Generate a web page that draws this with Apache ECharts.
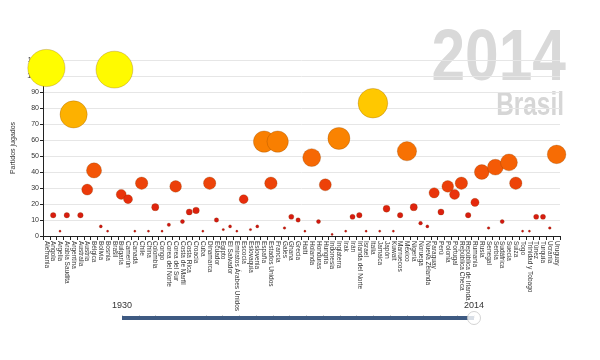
<!DOCTYPE html>
<html>
<head>
<meta charset="utf-8">
<script src="https://cdn.jsdelivr.net/npm/echarts@6/dist/echarts.min.js"></script>
<style>html,body{margin:0;padding:0;background:#fff}#c{width:600px;height:360px}</style>
</head>
<body>
<div id="c"></div>
<script>
const categories = ["Alemania","Angola","Argelia","Arabia Saudita","Argentina","Australia","Austria","Bélgica","Bolivia","Bosnia","Brasil","Bulgaria","Camerún","Canadá","Chile","China","Colombia","Congo","Corea del Norte","Corea del Sur","Costa de Marfil","Costa Rica","Croacia","Cuba","Dinamarca","Ecuador","Egipto","El Salvador","Emiratos Árabes Unidos","Escocia","Eslovaquia","Eslovenia","España","Estados Unidos","Francia","Gales","Ghana","Grecia","Haití","Holanda","Honduras","Hungría","Indonesia","Inglaterra","Irak","Irán","Irlanda del Norte","Israel","Italia","Jamaica","Japón","Kuwait","Marruecos","México","Nigeria","Noruega","Nueva Zelanda","Paraguay","Perú","Polonia","Portugal","República Checa","República de Irlanda","Rumania","Rusia","Senegal","Serbia","Sudáfrica","Suecia","Suiza","Togo","Trinidad y Tobago","Túnez","Turquía","Ucrania","Uruguay"];
const partidos = [105,13,3,13,76,13,29,41,6,3,104,26,23,3,33,3,18,3,7,31,9,15,16,3,33,10,4,6,3,23,4,6,59,33,59,5,12,10,3,49,9,32,1,61,3,12,13,3,83,3,17,3,13,53,18,8,6,27,15,31,26,33,13,21,40,5,43,9,46,33,3,3,12,12,5,51];
const yTicks = [0,10,20,30,40,50,60,70,80,90,100,110];
const years = [1930,1934,1938,1950,1954,1958,1962,1966,1970,1974,1978,1982,1986,1990,1994,1998,2002,2006,2010,2014];
const anioActual = 2014;
const paisSede = "Brasil";
const yName = "Partidos jugados";

const chart = echarts.init(document.getElementById('c'), null, {renderer: 'canvas'});
const font = 'Liberation Sans, Arial, sans-serif';
chart.setOption({
  animation: false,
  textStyle: {fontFamily: font},
  graphic: [
    {type: 'text', x: 566, y: 60, scaleX: 0.84, z: -10, silent: true,
     style: {text: String(anioActual), fontFamily: 'Liberation Sans', fontWeight: 'bold', fontSize: 72,
             fill: '#d9d9d9', align: 'right', verticalAlign: 'middle'}},
    {type: 'text', x: 564, y: 106, scaleX: 0.74, z: -10, silent: true,
     style: {text: paisSede, fontFamily: 'Liberation Sans', fontWeight: 'bold', fontSize: 33,
             fill: '#d6d6d6', align: 'right', verticalAlign: 'middle'}}
  ],
  visualMap: {
    show: false, type: 'continuous', seriesIndex: 0, dimension: 1,
    min: 1, max: 106,
    inRange: {color: ['#c80a14', '#e62a0c', '#f45a06', '#fb8a00', '#ffcf00', '#ffff00']}
  },
  grid: [
    {left: 43, right: 40, top: 60, bottom: 124},
    {left: 122, right: 126, top: 316, height: 4}
  ],
  xAxis: [
    {type: 'category', gridIndex: 0, data: categories, boundaryGap: true,
     axisLine: {lineStyle: {color: '#222', width: 1}},
     axisTick: {show: true, interval: 0, length: 4, lineStyle: {color: '#222'}},
     axisLabel: {interval: 0, rotate: -90, fontSize: 6.5, color: '#333', margin: 5},
     splitLine: {show: false}},
    {type: 'value', gridIndex: 1, min: 1930, max: 2014, position: 'top',
     axisLine: {show: false},
     axisTick: {show: true, customValues: years, length: 3, inside: false, lineStyle: {color: '#d0d0d0'}},
     axisLabel: {customValues: [1930, 2014], fontSize: 9, color: '#333', margin: 6, formatter: v => String(v)},
     splitLine: {show: false}}
  ],
  yAxis: [
    {type: 'value', gridIndex: 0, min: 0, max: 110, interval: 10,
     name: yName, nameLocation: 'middle', nameGap: 24,
     nameTextStyle: {fontSize: 7, color: '#333'},
     axisLine: {show: true, lineStyle: {color: '#222'}},
     axisTick: {show: true, length: 3, lineStyle: {color: '#222'}},
     axisLabel: {fontSize: 7, color: '#333', margin: 4, customValues: yTicks},
     splitLine: {show: true, lineStyle: {color: '#e6e6e6', width: 1}}},
    {type: 'value', gridIndex: 1, min: -1, max: 1, show: false}
  ],
  series: [
    {type: 'scatter', xAxisIndex: 0, yAxisIndex: 0, z: 3,
     data: categories.map((c, i) => [c, partidos[i]]),
     symbolSize: v => Math.max(2.2, 1 + v[1] * 0.345),
     itemStyle: {opacity: 1, borderColor: 'rgba(120,60,0,0.25)', borderWidth: 1}},
    {type: 'line', xAxisIndex: 1, yAxisIndex: 1, symbol: 'none', silent: true,
     data: [[years[0], 0], [years[years.length - 1], 0]],
     lineStyle: {color: '#3e5a82', width: 4}},
    {type: 'scatter', xAxisIndex: 1, yAxisIndex: 1, silent: true, z: 5,
     data: [[anioActual, 0]], symbolSize: 13,
     itemStyle: {color: '#ffffff', borderColor: '#c8c8c8', borderWidth: 1}}
  ]
});
</script>
</body>
</html>
